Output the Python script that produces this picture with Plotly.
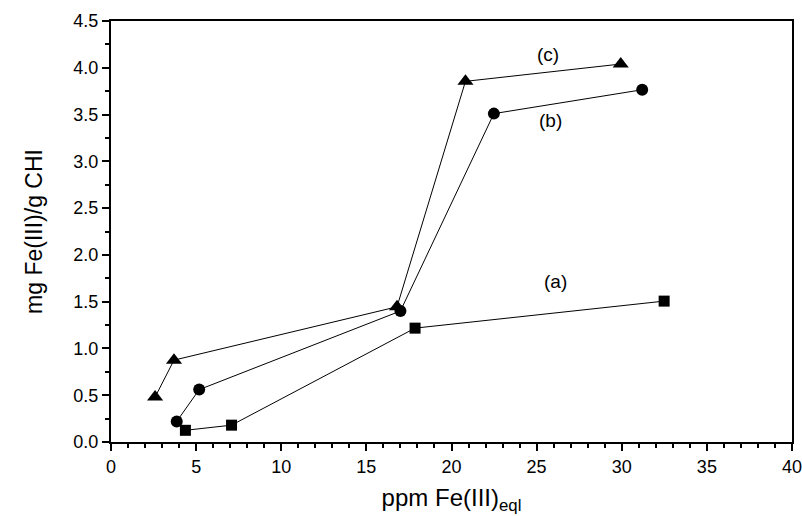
import plotly.graph_objects as go

# Series (a) squares, (b) circles, (c) triangles
a_x = [4.37, 7.08, 17.86, 32.49]
a_y = [0.125, 0.18, 1.217, 1.506]
b_x = [3.86, 5.18, 17.0, 22.49, 31.2]
b_y = [0.22, 0.56, 1.40, 3.51, 3.765]
c_x = [2.59, 3.7, 16.8, 20.82, 29.94]
c_y = [0.48, 0.875, 1.445, 3.855, 4.04]

labels = ["(a)", "(b)", "(c)"]
label_x = [26.1, 25.8, 25.66]
label_y = [1.72, 3.44, 4.14]

FONT = "Liberation Sans, Arial"

fig = go.Figure()
fig.add_trace(go.Scatter(x=a_x, y=a_y, mode="lines+markers",
                         line=dict(color="black", width=1),
                         marker=dict(symbol="square", size=11, color="black")))
fig.add_trace(go.Scatter(x=b_x, y=b_y, mode="lines+markers",
                         line=dict(color="black", width=1),
                         marker=dict(symbol="circle", size=12, color="black")))
fig.add_trace(go.Scatter(x=c_x, y=c_y, mode="lines+markers",
                         line=dict(color="black", width=1),
                         marker=dict(symbol="triangle-up", size=14, color="black")))

for t, x, y in zip(labels, label_x, label_y):
    fig.add_annotation(x=x, y=y, text=t, showarrow=False,
                       font=dict(family=FONT, size=19, color="black"))

axis_common = dict(showline=True, linecolor="black", linewidth=2, mirror=True,
                   ticks="outside", tickcolor="black", tickwidth=1.5, ticklen=7,
                   showgrid=False, zeroline=False, automargin=False,
                   ticklabeloverflow="allow",
                   tickfont=dict(family=FONT, size=18, color="black"))

fig.update_xaxes(range=[0, 40], dtick=5, tick0=0,
                 minor=dict(ticks="outside", dtick=1, ticklen=4, tickcolor="black", tickwidth=1.5),
                 title=dict(text="ppm Fe(III)<sub>eql</sub>", standoff=14,
                            font=dict(family=FONT, size=24, color="black")),
                 **axis_common)
fig.update_yaxes(range=[0, 4.5], dtick=0.5, tick0=0, tickformat=".1f",
                 minor=dict(ticks="outside", dtick=0.25, ticklen=4, tickcolor="black", tickwidth=1.5),
                 title=dict(text="mg Fe(III)/g CHI", standoff=24,
                            font=dict(family=FONT, size=23, color="black")),
                 **axis_common)

fig.update_layout(width=802, height=516, showlegend=False,
                  plot_bgcolor="white", paper_bgcolor="white",
                  margin=dict(l=111, r=10, t=21, b=74))

fig.write_html("out.html")
